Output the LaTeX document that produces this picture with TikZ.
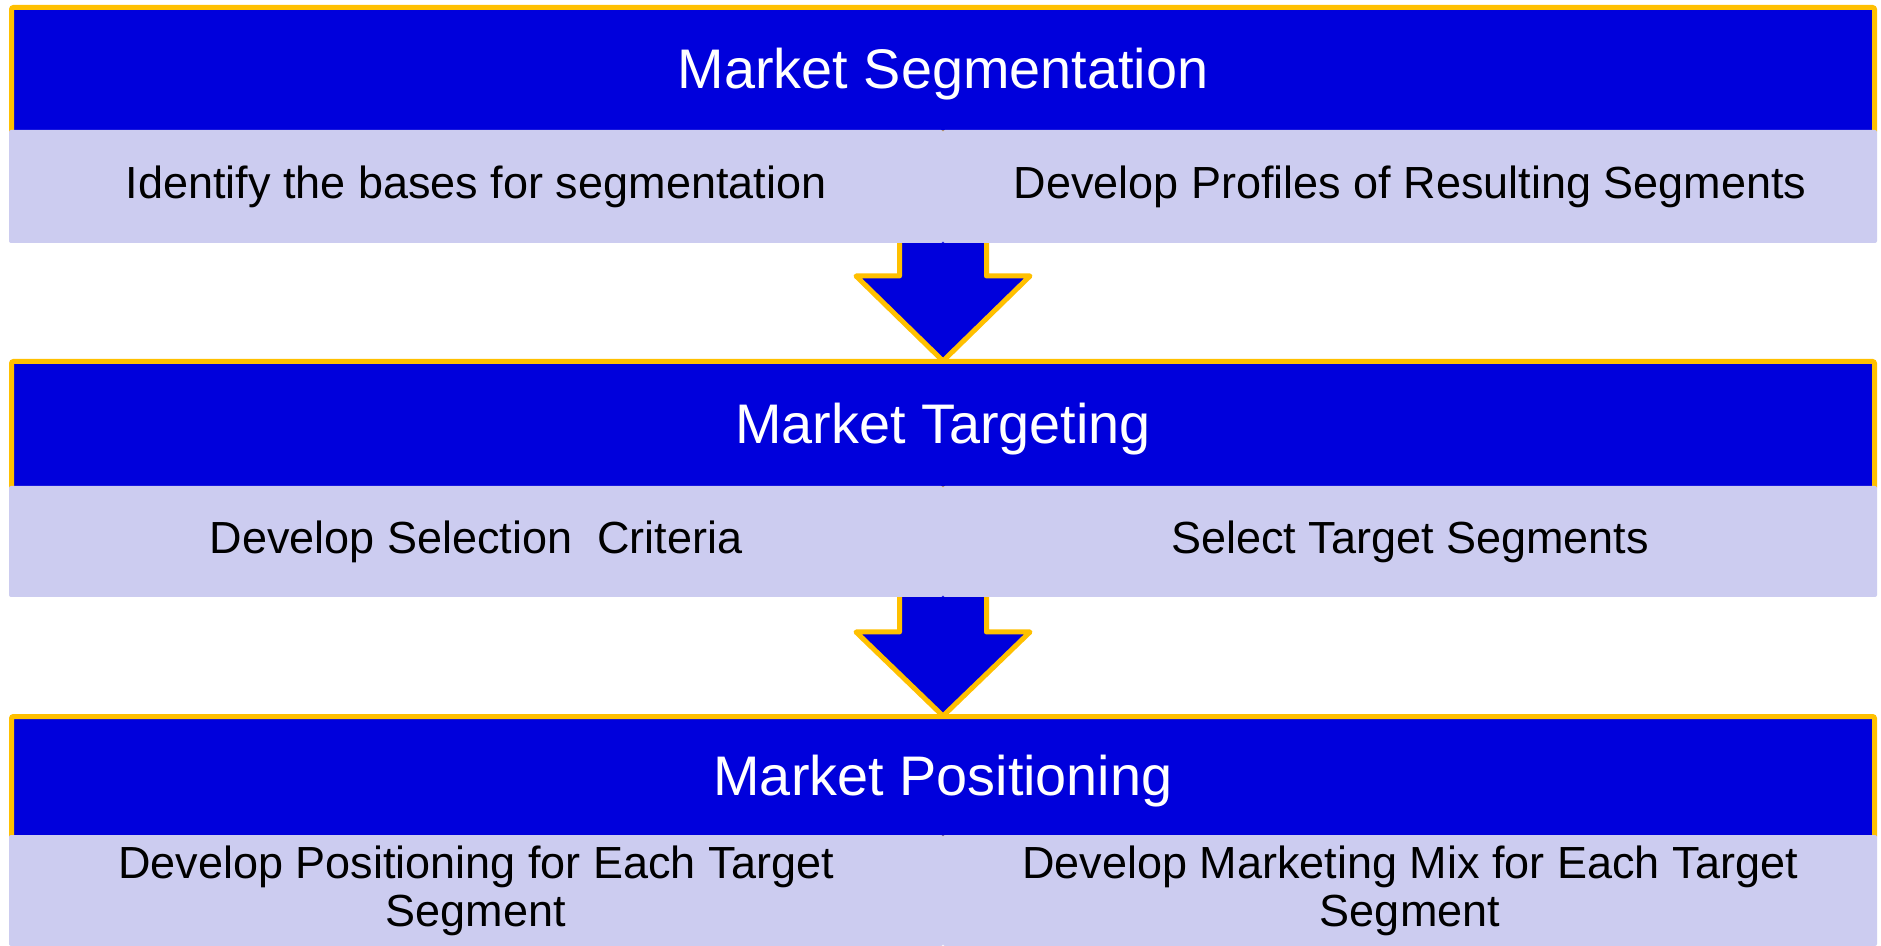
\documentclass[tikz,border=0pt]{standalone}
\usepackage{fontspec}
\setmainfont{Liberation Sans}
\usetikzlibrary{calc}
\definecolor{hdrblue}{RGB}{0,0,220}
\definecolor{edgeorange}{RGB}{255,192,0}
\definecolor{cellpurple}{RGB}{204,204,240}
\tikzset{
  header/.style={draw=edgeorange, line width=2.5pt, fill=hdrblue, rounded corners=1pt,
    text=white, font=\fontsize{27.9}{32}\selectfont, minimum width=931.5pt, inner sep=0pt,
    text depth=1.5pt},
  cell/.style={fill=cellpurple, rounded corners=1pt, minimum width=467pt, inner sep=0pt,
    text=black, align=center, font=\fontsize{22.5}{24}\selectfont},
  bigarrow/.style={fill=hdrblue, draw=edgeorange, line width=2.5pt, line join=round}
}
\begin{document}
\begin{tikzpicture}[x=0.5pt,y=-0.5pt]
\useasboundingbox[fill=white] (0,0) rectangle (1881,946);
% headers
\node[header, minimum height=62.75pt] (hdr1) at (943,70.25) {Market Segmentation};
\node[header, minimum height=63.75pt] (hdr2) at (943,425.25) {Market Targeting};
\node[header, minimum height=60.75pt] (hdr3) at (943,777.25) {Market Positioning};
% arrows
\draw[bigarrow] (899.5,238) -- (899.5,276) -- (856,276) -- ($(hdr2.north)+(0,2)$) -- (1030,276) -- (986.5,276) -- (986.5,238) -- cycle;
\draw[bigarrow] (899.5,592) -- (899.5,632) -- (856,632) -- ($(hdr3.north)+(0,2)$) -- (1030,632) -- (986.5,632) -- (986.5,592) -- cycle;
% cells
\node[cell, minimum height=56.5pt] (c1l) at (476,186.5) {Identify the bases for segmentation};
\node[cell, minimum height=56.5pt] (c1r) at (1410,186.5) {Develop Profiles of Resulting Segments};
\node[cell, minimum height=55.5pt] (c2l) at (476,541.5) {Develop Selection\ \ Criteria};
\node[cell, minimum height=55.5pt] (c2r) at (1410,541.5) {Select Target Segments};
\node[cell, minimum height=55.5pt] (c3l) at (476,890.5) {Develop Positioning for Each Target\\Segment};
\node[cell, minimum height=55.5pt] (c3r) at (1410,890.5) {Develop Marketing Mix for Each Target\\Segment};
\end{tikzpicture}
\end{document}
